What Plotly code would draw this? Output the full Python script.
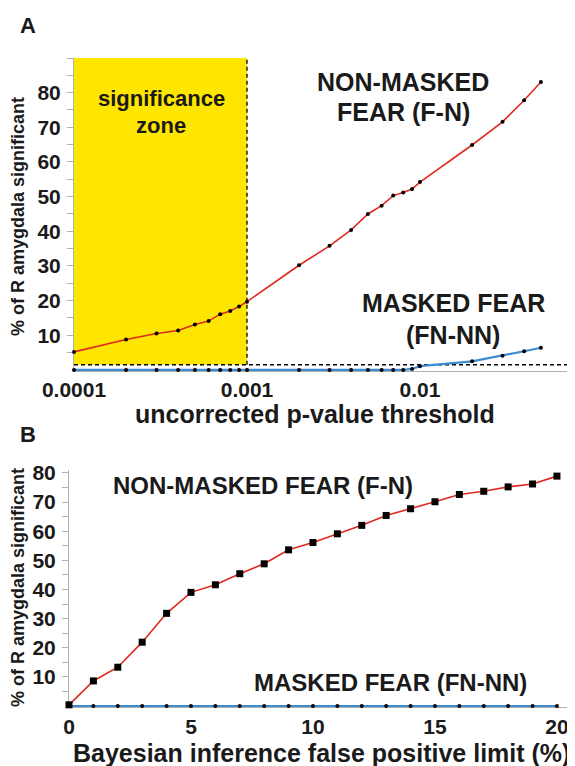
import plotly.graph_objects as go

# ---------------- data ----------------
p_thresholds = [0.0001, 0.0002, 0.0003, 0.0004, 0.0005, 0.0006, 0.0007, 0.0008, 0.0009,
                0.001, 0.002, 0.003, 0.004, 0.005, 0.006, 0.007, 0.008, 0.009,
                0.01, 0.02, 0.03, 0.04, 0.05]
nonmasked_a = [5.2, 8.8, 10.5, 11.4, 13.1, 14.1, 16.1, 17.0, 18.3,
               19.7, 30.2, 35.8, 40.4, 45.0, 47.4, 50.3, 51.2, 52.2,
               54.2, 64.9, 71.6, 77.8, 83.1]
masked_a = [0, 0, 0, 0, 0, 0, 0, 0, 0,
            0, 0, 0, 0, 0, 0, 0, 0, 0.3,
            1.1, 2.5, 4.1, 5.4, 6.4]

fp_limits = [0, 1, 2, 3, 4, 5, 6, 7, 8, 9, 10, 11, 12, 13, 14, 15, 16, 17, 18, 19, 20]
nonmasked_b = [0.4, 8.6, 13.3, 21.9, 31.8, 39.0, 41.6, 45.4, 48.8, 53.6, 56.1,
               59.1, 62.0, 65.4, 67.7, 70.1, 72.6, 73.7, 75.2, 76.2, 78.9]
masked_b = [0, 0, 0, 0, 0, 0, 0, 0, 0, 0, 0, 0, 0, 0, 0, 0, 0, 0, 0, 0, 0]

sig_zone_p = [0.0001, 0.001]   # significance zone bounds
chance_level = 1.5             # dashed reference level (%)
ymax_a = 90

x_ticks_a = [0.0001, 0.001, 0.01]
x_ticklabels_a = ["0.0001", "0.001", "0.01"]
y_ticks = [10, 20, 30, 40, 50, 60, 70, 80]
x_ticks_b = [0, 5, 10, 15, 20]

# ---------------- style ----------------
OFF = 8                      # page body margin of the html page
W, H = 575 - OFF, 766 - OFF  # figure size so the page fits the window
FONT = "Liberation Sans, Arial, Helvetica, sans-serif"
RED = "#e0291f"
BLUE = "#3c8ccf"
YELLOW = "#ffe600"
AXC = "#b0b0b0"


def PX(x):
    return (x - OFF) / W


def PY(y):
    return 1 - (y - OFF) / H


fig = go.Figure()

# significance zone (yellow)
fig.add_trace(go.Scatter(
    x=[sig_zone_p[0], sig_zone_p[1], sig_zone_p[1], sig_zone_p[0], sig_zone_p[0]],
    y=[chance_level, chance_level, ymax_a, ymax_a, chance_level],
    fill="toself", fillcolor=YELLOW, mode="none", hoverinfo="skip",
    xaxis="x", yaxis="y", showlegend=False))
# dashed reference lines
fig.add_trace(go.Scatter(
    x=[sig_zone_p[1], sig_zone_p[1]], y=[chance_level, ymax_a], mode="lines",
    line=dict(color="black", width=1.3, dash="4px,3px"), xaxis="x", yaxis="y",
    showlegend=False, hoverinfo="skip"))
fig.add_trace(go.Scatter(
    x=[sig_zone_p[0], 0.0787], y=[chance_level, chance_level], mode="lines",
    line=dict(color="black", width=1.3, dash="4px,3px"), xaxis="x", yaxis="y",
    showlegend=False, hoverinfo="skip", cliponaxis=False))

# panel A series
fig.add_trace(go.Scatter(
    x=p_thresholds, y=masked_a, mode="lines+markers",
    line=dict(color=BLUE, width=2.2), marker=dict(color="black", size=4),
    xaxis="x", yaxis="y", showlegend=False, cliponaxis=False))
fig.add_trace(go.Scatter(
    x=p_thresholds, y=nonmasked_a, mode="lines+markers",
    line=dict(color=RED, width=1.6), marker=dict(color="black", size=4),
    xaxis="x", yaxis="y", showlegend=False, cliponaxis=False))

# panel B series
fig.add_trace(go.Scatter(
    x=fp_limits, y=masked_b, mode="lines+markers",
    line=dict(color=BLUE, width=2.2), marker=dict(color="black", size=4),
    xaxis="x2", yaxis="y2", showlegend=False, cliponaxis=False))
fig.add_trace(go.Scatter(
    x=fp_limits, y=nonmasked_b, mode="lines+markers",
    line=dict(color=RED, width=1.6), marker=dict(color="black", size=7, symbol="square"),
    xaxis="x2", yaxis="y2", showlegend=False, cliponaxis=False))

tickfont = dict(family=FONT, size=21, color="#1a1a1a", weight="bold")
tickfont_b = dict(family=FONT, size=21, color="#1a1a1a", weight="bold")
ytickfont = dict(family=FONT, size=21, color="#1a1a1a", weight="bold")

# panel A: y=0 at 370 px, 3.46 px/unit; panel B: y=0 at 706 px, 2.915 px/unit
fig.update_layout(
    width=W, height=H, margin=dict(l=0, r=0, t=0, b=0, autoexpand=False),
    paper_bgcolor="white", plot_bgcolor="rgba(0,0,0,0)",
    xaxis=dict(type="log", domain=[PX(74), PX(575)], range=[-4, -1.104],
               tickvals=x_ticks_a, ticktext=x_ticklabels_a, tickfont=tickfont,
               showgrid=False, zeroline=False, showline=True, linecolor=AXC, linewidth=1,
               ticks="", ticklabelstandoff=0, anchor="y", automargin=False,
               layer="below traces"),
    yaxis=dict(domain=[PY(371), PY(58)], range=[-0.3, ymax_a],
               tickvals=y_ticks, tickfont=ytickfont, showgrid=False, zeroline=False,
               showline=True, linecolor=AXC, linewidth=1,
               ticks="outside", ticklen=6, tickcolor=AXC,
               minor=dict(tickvals=[5, 15, 25, 35, 45, 55, 65, 75, 85, 90],
                          ticks="outside", ticklen=6, tickcolor=AXC, showgrid=False),
               ticklabelstandoff=2, anchor="x", automargin=False, layer="below traces"),
    xaxis2=dict(domain=[PX(69), PX(575)], range=[0, 20.74], tickvals=x_ticks_b,
                tickfont=tickfont_b, showgrid=False, zeroline=False, showline=True,
                linecolor=AXC, linewidth=1, ticks="", ticklabelstandoff=1, anchor="y2",
                automargin=False, layer="below traces"),
    yaxis2=dict(domain=[PY(707), PY(470)], range=[-0.35, 81],
                tickvals=y_ticks, tickfont=ytickfont, showgrid=False, zeroline=False,
                showline=True, linecolor=AXC, linewidth=1,
                ticks="outside", ticklen=6, tickcolor=AXC,
                minor=dict(tickvals=[5, 15, 25, 35, 45, 55, 65, 75],
                           ticks="outside", ticklen=6, tickcolor=AXC, showgrid=False),
                ticklabelstandoff=2, anchor="x2", automargin=False, layer="below traces"),
)

TXT = "#1a1a1a"


def ann(text, x, y, size, angle=0):
    fig.add_annotation(text=text, x=PX(x), y=PY(y), xref="paper", yref="paper",
                       showarrow=False, xanchor="center", yanchor="middle",
                       textangle=angle,
                       font=dict(family=FONT, size=size, color=TXT, weight="bold"))


ann("A", 28, 25, 22)
ann("B", 28, 434, 22)
ann("significance", 161, 99, 22)
ann("zone", 161, 126, 22)
ann("NON-MASKED", 403, 82, 25)
ann("FEAR (F-N)", 403, 112, 25)
ann("MASKED FEAR", 453, 303, 25)
ann("(FN-NN)", 453, 335, 25)
ann("uncorrected p-value threshold", 315, 414, 25)
ann("% of R amygdala significant", 18, 217, 18, angle=-90)
ann("NON-MASKED FEAR (F-N)", 263, 485, 24)
ann("MASKED FEAR (FN-NN)", 390, 682, 24)
ann("Bayesian inference false positive limit (%)", 321, 753, 25)
ann("% of R amygdala significant", 18, 588, 18, angle=-90)

fig.write_html("out.html")
